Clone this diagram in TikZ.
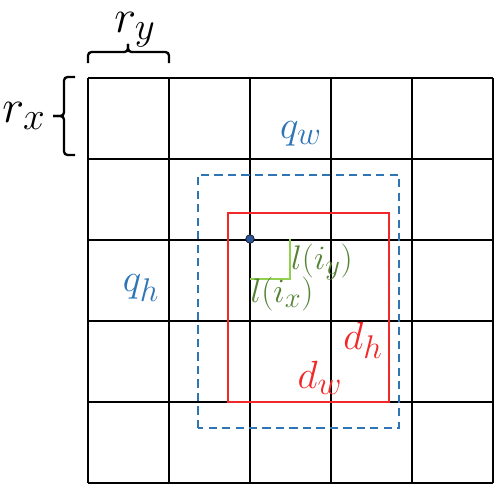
\documentclass[tikz,border=0pt]{standalone}
\usepackage{amsmath}
\usepackage{tikz}
\usetikzlibrary{arrows.meta}

\definecolor{qblue}{HTML}{2E75B6}
\definecolor{dred}{HTML}{F02828}
\definecolor{lgreen}{HTML}{548235}
\definecolor{lline}{HTML}{92D050}
\definecolor{dotblue}{HTML}{2F5597}

\begin{document}
\begin{tikzpicture}[>=Latex,x=0.03cm,y=0.03cm]
  \tikzset{
    cell/.style={line width=2.4pt,black},
    query/.style={line width=2pt,qblue,dash pattern=on 7pt off 4.5pt},
    det/.style={line width=2pt,dred},
    offs/.style={line width=1.2pt,lline},
    lab/.style={inner sep=0pt,font=\Huge,scale=1.35},
    small/.style={inner sep=0pt,font=\Huge,scale=1.17},
    big/.style={inner sep=0pt,font=\Huge,scale=1.6},
    brc/.style={line width=2pt,rounded corners=3pt}
  }
  \useasboundingbox (0,0) rectangle (500,490);

  % grid of cells
  \foreach \i in {0,...,5} {
    \draw[cell] (88+81*\i,7) -- (88+81*\i,412);
    \draw[cell] (88,7+81*\i) -- (493,7+81*\i);
  }

  % query and detection boxes
  \draw[query] (198,62) rectangle (399,315);
  \draw[det] (228,88) rectangle (389,277);

  % offset
  \coordinate (p) at (250,251);
  \coordinate (c) at (290,211);
  \draw[offs] (p -| c) -- (c) -- (c -| p);
  \fill[dotblue,draw=black!70!dotblue,line width=0.6pt] (p) circle (4.3);

  % braces
  \coordinate (ya) at (88,427);
  \coordinate (yb) at (169,427);
  \coordinate (yt) at (128,446);
  \coordinate (xa) at (75,413);
  \coordinate (xb) at (75,335);
  \coordinate (xt) at (53,374);
  \draw[brc] (ya) -- ++(0,11) -| (yt);
  \draw[brc] (yb) -- ++(0,11) -| (yt);
  \draw[brc] (xa) -- ++(-11,0) |- (xt);
  \draw[brc] (xb) -- ++(-11,0) |- (xt);

  \node[big] (ry) at (135,460) {$r_y$};
  \node[big] (rx) at (24,374) {$r_x$};
  \node[lab,text=qblue] (qw) at (301,356) {$q_w$};
  \node[lab,text=qblue] (qh) at (141,202) {$q_h$};
  \node[small,text=lgreen] (liy) at (322,228) {$l(i_y)$};
  \node[small,text=lgreen] (lix) at (282,196) {$l(i_x)$};
  \node[lab,text=dred] (dh) at (363,150) {$d_h$};
  \node[lab,text=dred] (dw) at (320,112) {$d_w$};
\end{tikzpicture}
\end{document}
